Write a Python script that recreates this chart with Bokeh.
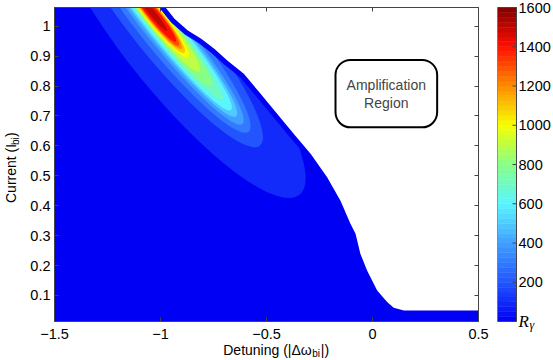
import numpy as np
from bokeh.plotting import figure
from bokeh.layouts import row, column
from bokeh.models import (ColumnDataSource, FixedTicker, LinearAxis, Label,
                          BoxAnnotation, Range1d)
from bokeh.core.properties import value
from bokeh.embed import file_html
from bokeh.resources import INLINE

# ---------------- data ----------------
x_lo, x_hi = -1.5, 0.5
y_lo, y_hi = 0.0131, 1.0625

# right-hand edge of the coloured (amplifying) region, top to bottom
boundary_x = [-0.99, -0.934, -0.871, -0.808, -0.745, -0.685, -0.607, -0.528, -0.450,
              -0.371, -0.292, -0.214, -0.151, -0.104, -0.080, -0.057, -0.025, 0.022,
              0.069, 0.100, 0.148, 0.5]
boundary_y = [1.075, 1.025, 0.986, 0.958, 0.924, 0.885, 0.841, 0.774, 0.707,
              0.640, 0.574, 0.495, 0.417, 0.340, 0.306, 0.239, 0.183, 0.117,
              0.078, 0.059, 0.050, 0.050]

# contour levels of R_gamma and the elliptical outline of each level
levels = [100, 200, 300, 400, 500, 600, 700, 800, 900, 1000, 1100, 1200, 1300, 1400, 1500]
ell_x = [-0.914, -0.976, -0.976, -0.976, -0.976, -0.976, -0.982, -0.991, -1.006,
         -1.017, -1.024, -1.026, -1.029, -1.035, -1.044]
ell_y = [0.935, 0.990, 0.990, 0.990, 0.990, 0.990, 0.995, 1.003, 1.016,
         1.026, 1.031, 1.034, 1.036, 1.042, 1.049]
ell_w = [1.811, 1.415, 1.245, 1.151, 1.057, 0.981, 0.868, 0.736, 0.604,
         0.472, 0.434, 0.396, 0.368, 0.340, 0.236]
ell_h = [0.334, 0.207, 0.157, 0.124, 0.106, 0.093, 0.080, 0.075, 0.067,
         0.059, 0.051, 0.046, 0.040, 0.035, 0.021]
ridge_angle_deg = -51

x_ticks = [-1.5, -1, -0.5, 0, 0.5]
x_tick_labels = ["\u22121.5", "\u22121", "\u22120.5", "0", "0.5"]
y_ticks = [0.1, 0.2, 0.3, 0.4, 0.5, 0.6, 0.7, 0.8, 0.9, 1.0]
y_tick_labels = ["0.1", "0.2", "0.3", "0.4", "0.5", "0.6", "0.7", "0.8", "0.9", "1"]
cbar_lo, cbar_hi = 0, 1600
cbar_ticks = [200, 400, 600, 800, 1000, 1200, 1400, 1600]
cbar_tick_labels = [str(t) for t in cbar_ticks]

# colour map (jet-like)
cmap_pos = [0, 200, 400, 600, 800, 1000, 1200, 1400, 1600]
cmap_rgb = [(0, 0, 245), (35, 85, 255), (65, 160, 255), (90, 245, 255), (135, 255, 135),
            (245, 255, 0), (255, 140, 0), (255, 15, 0), (130, 0, 0)]


def cmap(v):
    r = np.interp(v, cmap_pos, [c[0] for c in cmap_rgb])
    g = np.interp(v, cmap_pos, [c[1] for c in cmap_rgb])
    b = np.interp(v, cmap_pos, [c[2] for c in cmap_rgb])
    return "#%02x%02x%02x" % (int(round(r)), int(round(g)), int(round(b)))


FONT = "Liberation Sans"
AX_COL = "#444444"

# ---------------- page geometry (pixels) ----------------
YL_W = 20                                   # strip holding the y title
FR_L, FR_W, FR_T, FR_H = 54, 424, 7, 314    # frame of the main plot
ROW_H = FR_T + FR_H + 1                     # height of plot row
PAGE_W, PAGE_H = 553, 360
CB_W, BAR_W = 56, 19                        # colour-bar strip / bar width
LEFT_W = PAGE_W - CB_W

# ---------------- main plot ----------------
p = figure(width=LEFT_W - YL_W, height=ROW_H,
           x_range=Range1d(x_lo, x_hi), y_range=Range1d(y_lo, y_hi),
           output_backend="svg", toolbar_location=None,
           min_border_left=FR_L - YL_W, min_border_right=LEFT_W - FR_L - FR_W,
           min_border_top=FR_T, min_border_bottom=1,
           background_fill_color=cmap(0), border_fill_color="white",
           outline_line_color=AX_COL)
p.grid.visible = False

src = ColumnDataSource(dict(x=ell_x, y=ell_y, w=ell_w, h=ell_h,
                            c=[cmap(v) for v in levels]))
p.ellipse(x="x", y="y", width="w", height="h", angle=np.deg2rad(ridge_angle_deg),
          fill_color="c", line_color=None, source=src)

# dark-blue rim along the edge, then white outside the region
p.line(boundary_x, boundary_y, line_width=10, line_color=cmap(0))
mask_x = boundary_x + [0.6, 0.6, -0.99]
mask_y = boundary_y + [0.05, 1.2, 1.2]
p.patch(mask_x, mask_y, fill_color="white", line_color=None)


def style_axis(ax, size=None):
    ax.major_tick_in = 4
    ax.major_tick_out = 0
    ax.minor_tick_line_color = None
    ax.axis_line_color = AX_COL
    ax.major_tick_line_color = AX_COL
    ax.major_label_text_font = FONT
    if size is None:
        ax.major_label_text_font_size = "0px"
        ax.major_label_text_color = None
        ax.major_label_standoff = 0
    else:
        ax.major_label_text_font_size = size
        ax.major_label_text_color = "black"


xa = p.xaxis[0]
xa.ticker = FixedTicker(ticks=x_ticks)
style_axis(xa)

ya = p.yaxis[0]
ya.ticker = FixedTicker(ticks=y_ticks)
ya.major_label_overrides = {t: l for t, l in zip(y_ticks, y_tick_labels)}
style_axis(ya, "14.5px")
ya.major_label_standoff = 4

top_ax = LinearAxis(ticker=FixedTicker(ticks=x_ticks))
style_axis(top_ax)
p.add_layout(top_ax, "above")
right_ax = LinearAxis(ticker=FixedTicker(ticks=y_ticks))
style_axis(right_ax)
p.add_layout(right_ax, "right")

# "Amplification Region" box
p.add_layout(BoxAnnotation(left=-0.1745, right=0.305, bottom=0.662, top=0.887,
                           fill_color="white", fill_alpha=1.0, line_color="black",
                           line_alpha=1.0, line_width=2, border_radius=15))
p.add_layout(Label(x=0.065, y=0.804, text="Amplification", text_font=FONT,
                   text_font_size="14px", text_align="center", text_baseline="middle"))
p.add_layout(Label(x=0.065, y=0.742, text="Region", text_font=FONT,
                   text_font_size="14px", text_align="center", text_baseline="middle"))

# ---------------- y title strip ----------------
yl = figure(width=YL_W, height=ROW_H, x_range=Range1d(0, YL_W), y_range=Range1d(0, ROW_H),
            output_backend="svg", toolbar_location=None, x_axis_location=None,
            y_axis_location=None, min_border=0, outline_line_color=None)
yl.grid.visible = False
yl.text(x=[10], y=[121.5], text=["Current (I"], angle=np.pi / 2, text_font=value(FONT),
        text_font_size="14px", text_align="left", text_baseline="middle")
yl.text(x=[15], y=[181], text=["bi"], angle=np.pi / 2, text_font=value(FONT),
        text_font_size="10px", text_align="left", text_baseline="middle")
yl.text(x=[10], y=[189.3], text=[")"], angle=np.pi / 2, text_font=value(FONT),
        text_font_size="14px", text_align="left", text_baseline="middle")

# ---------------- x tick labels + x title strip ----------------
XL_H = PAGE_H - ROW_H
XL_AX = 16
xl = figure(width=LEFT_W, height=XL_H, x_range=p.x_range, y_range=Range1d(0, XL_H - XL_AX),
            output_backend="svg", toolbar_location=None, x_axis_location="above",
            y_axis_location=None, min_border_left=FR_L, min_border_right=LEFT_W - FR_L - FR_W,
            min_border_top=XL_AX, min_border_bottom=0, outline_line_color=None)
xl.grid.visible = False
xla = xl.xaxis[0]
xla.ticker = FixedTicker(ticks=x_ticks)
xla.major_label_overrides = {t: l for t, l in zip(x_ticks, x_tick_labels)}
xla.axis_line_color = None
xla.major_tick_line_color = None
xla.minor_tick_line_color = None
xla.major_tick_in = 0
xla.major_tick_out = 0
xla.major_label_standoff = 0
xla.major_label_text_font = FONT
xla.major_label_text_font_size = "14.5px"
xla.major_label_text_color = "black"

xl.text(x=[-0.704], y=[11], text=["Detuning (|\u0394\u03c9"], text_font=value(FONT),
        text_font_size="14px", text_align="left", text_baseline="alphabetic")
xl.text(x=[-0.704], y=[7.5], text=["bi"], x_offset=89, text_font=value(FONT),
        text_font_size="10px", text_align="left", text_baseline="alphabetic")
xl.text(x=[-0.704], y=[11], text=["|)"], x_offset=97.5, text_font=value(FONT),
        text_font_size="14px", text_align="left", text_baseline="alphabetic")

# ---------------- colour bar strip (full page height) ----------------
cb_y_per_px = (cbar_hi - cbar_lo) / FR_H
cb = figure(width=CB_W, height=PAGE_H,
            x_range=Range1d(0, CB_W / BAR_W),
            y_range=Range1d(cbar_lo - (PAGE_H - FR_T - FR_H) * cb_y_per_px,
                            cbar_hi + FR_T * cb_y_per_px),
            output_backend="svg", toolbar_location=None, x_axis_location=None,
            y_axis_location=None, min_border=0, outline_line_color=None)
cb.grid.visible = False
edges = np.linspace(cbar_lo, cbar_hi, 65)
cols = [cmap(0.5 * (a + b)) for a, b in zip(edges[:-1], edges[1:])]
cb.quad(left=0, right=1, bottom=edges[:-1], top=edges[1:], fill_color=cols,
        line_color=cols, line_width=0.5)
cb.quad(left=0, right=1, bottom=cbar_lo, top=cbar_hi, fill_color=None,
        line_color=AX_COL, line_width=1)
cb.segment(x0=1, x1=1 - 4 / BAR_W, y0=cbar_ticks, y1=cbar_ticks, line_color=AX_COL, line_width=1)
cb.text(x=1, y=cbar_ticks, text=cbar_tick_labels, x_offset=2, text_font=value(FONT),
        text_font_size="14.5px", text_align="left", text_baseline="middle")
cb.text(x=[1], y=[cbar_lo], text=["R"], x_offset=2, text_font=value("Liberation Serif"),
        text_font_style="italic", text_font_size="17px", text_baseline="alphabetic")
cb.text(x=[1], y=[cbar_lo - 3.5 * cb_y_per_px], text=["\u03b3"], x_offset=13,
        text_font=value("Liberation Serif"), text_font_style="italic",
        text_font_size="12px", text_baseline="alphabetic")

layout = row(column(row(yl, p), xl), cb)
open("out.html", "w").write(file_html(layout, INLINE))
